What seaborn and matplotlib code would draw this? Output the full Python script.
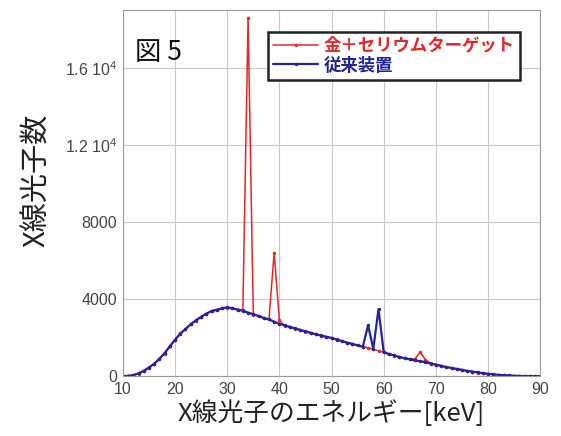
import matplotlib
matplotlib.use("Agg")
import matplotlib.pyplot as plt
import seaborn as sns
import pandas as pd

# photon energy [keV], 1 keV steps
energy = list(range(10, 91))

# 金＋セリウムターゲット
target_counts = [
    0, 30, 70, 140, 290, 460, 640, 920, 1180, 1560,
    1880, 2230, 2430, 2720, 2880, 3100, 3230, 3400, 3440, 3540,
    3560, 3540, 3440, 3420, 18600, 3200, 3140, 3010, 2960, 6400,
    2900, 2620, 2570, 2470, 2410, 2320, 2260, 2170, 2120, 2040,
    1980, 1910, 1820, 1750, 1670, 1610, 1530, 1480, 1400, 1320,
    1240, 1160, 1070, 1010, 930, 890, 900, 1250, 850, 680,
    610, 550, 470, 440, 370, 340, 270, 245, 195, 165,
    125, 105, 70, 58, 38, 30, 16, 11, 4, 3,
    0,
]

# 従来装置
conventional_counts = [
    0, 20, 60, 150, 280, 450, 650, 900, 1200, 1550,
    1900, 2200, 2450, 2700, 2900, 3080, 3250, 3380, 3450, 3520,
    3580, 3520, 3460, 3400, 3300, 3220, 3120, 3030, 2950, 2830,
    2720, 2640, 2560, 2480, 2400, 2330, 2250, 2180, 2110, 2050,
    1990, 1900, 1830, 1740, 1680, 1600, 1540, 2650, 1420, 3480,
    1250, 1150, 1080, 1000, 940, 880, 820, 780, 730, 660,
    600, 540, 480, 430, 380, 330, 280, 240, 200, 160,
    130, 100, 75, 55, 40, 28, 18, 10, 5, 2,
    0,
]

series_names = ["金＋セリウムターゲット", "従来装置"]
series_colors = ["#e02828", "#23239a"]

x_ticks = [10, 20, 30, 40, 50, 60, 70, 80, 90]
y_ticks = [0, 4000, 8000, 12000, 16000]
y_tick_labels = ["0", "4000", "8000", "1.2 10$^4$", "1.6 10$^4$"]

sns.set_theme(style="whitegrid")
plt.rcParams["font.family"] = ["Noto Sans CJK JP", "DejaVu Sans"]
plt.rcParams["mathtext.fontset"] = "custom"
plt.rcParams["mathtext.rm"] = "Liberation Sans"

df = pd.DataFrame({
    "energy": energy * 2,
    "counts": target_counts + conventional_counts,
    "series": [series_names[0]] * len(energy) + [series_names[1]] * len(energy),
})

fig = plt.figure(figsize=(5.61, 4.36), dpi=100)
ax = fig.add_axes([0.219, 0.137, 0.744, 0.840])

for name, color, lw in zip(series_names, series_colors, [1.1, 1.6]):
    sns.lineplot(
        data=df[df["series"] == name],
        x="energy",
        y="counts",
        color=color,
        linewidth=lw,
        marker="o",
        markersize=2.5,
        markeredgewidth=0,
        label=name,
        ax=ax,
    )

ax.set_xlim(10, 90)
ax.set_ylim(0, 19000)
ax.set_xticks(x_ticks)
ax.set_yticks(y_ticks)
ax.set_yticklabels(y_tick_labels)
ax.tick_params(axis="both", length=0, labelsize=11.5, colors="#444444")
ax.tick_params(axis="x", pad=4)
ax.tick_params(axis="y", pad=4)
for lbl in ax.get_xticklabels() + ax.get_yticklabels():
    lbl.set_family(["Liberation Sans", "DejaVu Sans"])
ax.grid(True, color="#c8c8c8", linewidth=0.8)
for s in ax.spines.values():
    s.set_color("#999999")
    s.set_linewidth(0.8)

ax.set_xlabel("X線光子のエネルギー[keV]", fontsize=18.5, color="#222222")
ax.xaxis.set_label_coords(0.5, -0.066)
ax.set_ylabel("X線光子数", fontsize=21, color="#222222")
ax.yaxis.set_label_coords(-0.17, 0.535)

ax.text(0.03, 0.885, "図 5", transform=ax.transAxes, fontsize=19,
        va="center", ha="left", color="#111111")

leg = ax.legend(
    loc="upper right",
    bbox_to_anchor=(0.972, 0.965),
    fontsize=12.5,
    frameon=True,
    fancybox=False,
    framealpha=1,
    edgecolor="#222222",
    handlelength=2.6,
    borderpad=0.3,
    labelspacing=0.1,
    handletextpad=0.3,
)
leg.get_frame().set_linewidth(1.8)
for txt, color in zip(leg.get_texts(), series_colors):
    txt.set_color(color)
    txt.set_fontweight("bold")

fig.savefig("out.png", dpi=100)
